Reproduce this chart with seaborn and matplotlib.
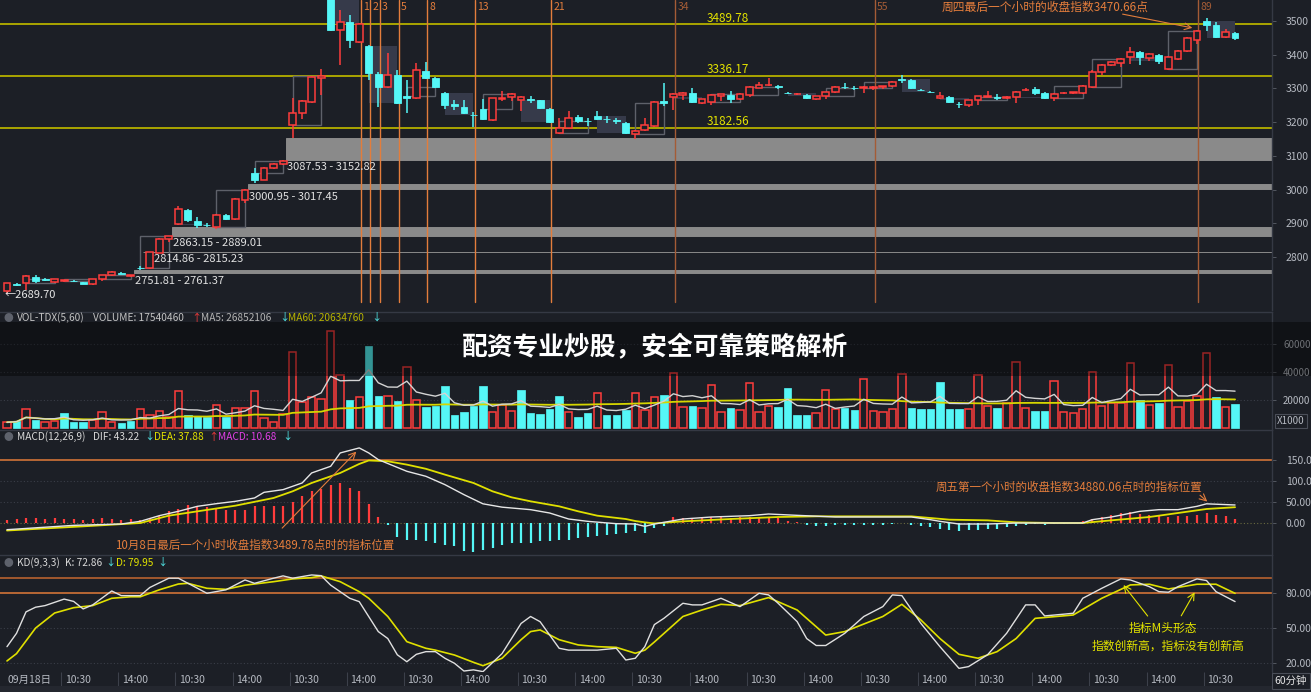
"""
60-minute index chart: candles with gap bands and Fibonacci time lines,
VOL-TDX volume, MACD(12,26,9) and KD(9,3,3), with overlay banner.
"""
import numpy as np
import pandas as pd
import matplotlib
matplotlib.use('Agg')
import matplotlib.pyplot as plt
from matplotlib.patches import Rectangle
import seaborn as sns

# ---- candles (60 min) ----
opens = [2699, 2720, 2723, 2740, 2735, 2726, 2730, 2729, 2726, 2720,
         2734, 2746, 2753, 2745, 2768, 2767, 2813, 2852, 2898, 2939,
         2908, 2896, 2889, 2924, 2913, 2970, 3049, 3029, 3064, 3076,
         3191, 3227, 3260, 3332, 3600, 3473, 3497, 3438, 3426, 3343,
         3304, 3340, 3277, 3272, 3352, 3331, 3286, 3253, 3245, 3222,
         3239, 3206, 3269, 3274, 3266, 3270, 3265, 3240, 3168, 3183,
         3215, 3204, 3218, 3210, 3205, 3197, 3165, 3177, 3188, 3262,
         3274, 3280, 3286, 3258, 3260, 3279, 3281, 3268, 3280, 3302,
         3309, 3308, 3287, 3282, 3280, 3268, 3277, 3289, 3305, 3302,
         3302, 3302, 3303, 3307, 3328, 3325, 3296, 3290, 3271, 3275,
         3255, 3251, 3265, 3276, 3275, 3273, 3274, 3294, 3298, 3286,
         3272, 3285, 3286, 3286, 3304, 3349, 3369, 3375, 3393, 3408,
         3391, 3399, 3358, 3387, 3411, 3444, 3500, 3488, 3453, 3464]
highs = [2723, 2722, 2746, 2746, 2738, 2736, 2733, 2731, 2727, 2735,
         2748, 2758, 2755, 2748, 2772, 2816, 2855, 2863, 2951, 2941,
         2918, 2901, 2926, 2926, 2974, 3001, 3064, 3066, 3078, 3087,
         3271, 3265, 3336, 3358, 3610, 3532, 3518, 3493, 3428, 3349,
         3405, 3355, 3325, 3375, 3378, 3333, 3288, 3265, 3265, 3230,
         3268, 3273, 3291, 3285, 3277, 3278, 3267, 3242, 3212, 3232,
         3222, 3212, 3233, 3218, 3212, 3199, 3176, 3212, 3262, 3316,
         3286, 3288, 3301, 3270, 3282, 3283, 3292, 3285, 3306, 3318,
         3331, 3309, 3290, 3285, 3282, 3278, 3290, 3306, 3315, 3306,
         3307, 3307, 3308, 3322, 3340, 3327, 3298, 3291, 3289, 3277,
         3259, 3267, 3279, 3293, 3282, 3277, 3291, 3300, 3303, 3288,
         3285, 3289, 3290, 3309, 3354, 3371, 3380, 3390, 3422, 3410,
         3405, 3403, 3395, 3413, 3452, 3473, 3510, 3497, 3476, 3466]
lows = [2690, 2714, 2702, 2723, 2730, 2724, 2725, 2726, 2719, 2718,
        2728, 2745, 2749, 2740, 2762, 2765, 2811, 2845, 2896, 2903,
        2886, 2890, 2883, 2911, 2911, 2960, 3019, 3027, 3062, 3074,
        3153, 3210, 3258, 3280, 3470, 3369, 3420, 3436, 3325, 3245,
        3302, 3255, 3227, 3270, 3329, 3302, 3239, 3235, 3225, 3186,
        3207, 3204, 3262, 3262, 3233, 3256, 3240, 3198, 3166, 3181,
        3197, 3190, 3205, 3198, 3195, 3166, 3150, 3175, 3186, 3248,
        3236, 3265, 3258, 3255, 3252, 3262, 3258, 3265, 3276, 3300,
        3307, 3298, 3282, 3280, 3270, 3266, 3270, 3286, 3298, 3296,
        3285, 3296, 3299, 3305, 3316, 3299, 3292, 3286, 3269, 3258,
        3243, 3245, 3251, 3274, 3265, 3270, 3257, 3292, 3281, 3270,
        3262, 3282, 3284, 3284, 3302, 3339, 3367, 3365, 3371, 3368,
        3380, 3372, 3355, 3385, 3409, 3433, 3469, 3451, 3449, 3445]
closes = [2723, 2716, 2744, 2729, 2733, 2734, 2732, 2728, 2720, 2734,
          2746, 2755, 2750, 2747, 2766, 2814, 2853, 2862, 2942, 2909,
          2895, 2894, 2924, 2913, 2972, 2999, 3028, 3064, 3076, 3085,
          3227, 3263, 3334, 3336, 3473, 3497, 3444, 3491, 3346, 3304,
          3340, 3257, 3273, 3355, 3331, 3304, 3251, 3249, 3227, 3220,
          3209, 3271, 3273, 3283, 3275, 3267, 3242, 3200, 3183, 3212,
          3204, 3202, 3209, 3208, 3202, 3168, 3174, 3191, 3260, 3258,
          3284, 3287, 3260, 3268, 3280, 3282, 3270, 3283, 3304, 3311,
          3311, 3304, 3285, 3284, 3272, 3277, 3289, 3304, 3303, 3300,
          3305, 3305, 3306, 3320, 3326, 3301, 3294, 3288, 3278, 3260,
          3253, 3265, 3277, 3278, 3273, 3275, 3289, 3296, 3287, 3272,
          3283, 3287, 3288, 3307, 3349, 3369, 3378, 3388, 3408, 3394,
          3402, 3381, 3393, 3411, 3450, 3470.66, 3488, 3453, 3467, 3450]

# volume, x1000
volume = [4300, 5200, 13800, 5900, 4300, 5200, 10700, 4300, 4300, 5900,
          11400, 4300, 3600, 5200, 13800, 9500, 12400, 8300, 26600, 9300,
          8800, 7900, 16600, 7900, 14300, 14800, 26900, 7100, 4800, 10200,
          54700, 19000, 22100, 20700, 69700, 38100, 20200, 22100, 58800, 23300,
          23000, 19700, 43600, 20200, 15000, 16200, 30200, 9500, 11400, 15900,
          30200, 11900, 16600, 12600, 27300, 10700, 10200, 13800, 23300, 11400,
          8300, 10700, 25400, 9500, 9500, 13100, 25000, 13100, 22100, 23800,
          39300, 15000, 16200, 14700, 30900, 11900, 14300, 13100, 32100, 11900,
          16200, 15000, 28600, 9500, 9500, 11100, 27300, 13800, 14300, 13100,
          35200, 12400, 11900, 13600, 38600, 14300, 13800, 13800, 33300, 13800,
          13800, 13800, 38100, 16200, 14300, 17900, 47600, 14700, 12400, 12400,
          34000, 11400, 10700, 13600, 40400, 15900, 18300, 17900, 46800, 20200,
          16600, 18300, 45200, 15400, 19700, 23100, 54000, 22600, 15400, 17540]

# MACD histogram
macd_hist = [6.4, 9.6, 11, 11, 9.6, 12, 9.6, 9.6, 8, 9.6,
             12, 9.6, 8, 9.6, 8, 12, 17.6, 28, 33.6, 44,
             40, 38, 36, 32, 32, 32, 40, 40, 41.6, 41.6,
             49.6, 64, 76, 81.6, 92, 96, 84, 77.6, 46.4, 14.4,
             -4, -33.6, -40, -40, -44, -48, -52, -56, -68, -70,
             -64, -60, -52, -48, -48, -48, -44, -44, -40, -40,
             -36, -33.6, -30, -28, -25.6, -24, -20, -24, -13, -6,
             14.4, 12, 12, 12, 14.4, 14.4, 12, 14.4, 14.4, 14.4,
             14.4, 12, 4, 2.4, -4, -6.4, -6.4, -5.6, -4, -4,
             -4, -4, -4, -1.6, 0.5, -4, -6.4, -10.4, -14.4, -17.6,
             -20, -17.6, -16, -14.4, -13.6, -9.6, -6.4, -4, -3.2, -4,
             -2.4, -1.6, 0.5, 4, 9.6, 14.4, 20, 24, 25.6, 22.4,
             20, 17.6, 14.4, 17.6, 17.6, 20, 24, 20, 17.6, 10.68]

dif_idx = [0, 7, 12, 14, 16, 18, 20, 22, 24, 26, 27, 29, 31, 32, 34, 35, 36, 37,
           38, 39, 42, 44, 46, 48, 50, 52, 55, 57, 59, 61, 64, 66, 67, 68, 69,
           71, 74, 78, 80, 83, 87, 92, 95, 97, 98, 100, 103, 106, 110, 113, 114,
           116, 119, 121, 123, 125, 126, 129]
dif_val = [-16, -5.6, -2.4, 4, 17.6, 28, 40, 46.4, 52, 60, 73.6, 80, 96, 120, 136, 168, 174, 180,
           168, 152, 124, 112, 92, 68, 46, 38, 32, 24, 9.6, 4, -1.6, -2.4, -8, -2.4, 1.6,
           9.6, 14.4, 17.6, 21.6, 18.4, 14.4, 14.4, 14.4, 8, 4, -2.4, -2.4, 0, 0, 0, 8,
           14.4, 28, 32, 32, 40, 46, 43.22]
dea_idx = [0, 8, 14, 17, 20, 24, 28, 30, 32, 35, 37, 38, 40, 42, 44, 46, 49, 51, 53,
           55, 58, 60, 62, 65, 66, 67, 68, 71, 76, 81, 85, 95, 99, 103, 106, 110,
           113, 116, 120, 123, 126, 129]
dea_val = [-18, -8, 0, 17.6, 28, 41.6, 60, 76, 96, 120, 141.6, 150, 148, 140, 130, 116, 96, 76, 61.6,
           52, 40, 28, 17.6, 9.6, 4.8, 1.6, -1, 4, 9.6, 14.4, 16, 16, 8, 6.4, 1.6, 0,
           0, 6.4, 14.4, 24, 33.6, 37.88]

k_idx = [0, 1, 2, 3, 4, 6, 7, 8, 9, 11, 12, 14, 15, 17, 18, 21, 23, 25, 26, 28, 29, 30,
         32, 33, 34, 36, 37, 39, 40, 41, 42, 43, 44, 45, 46, 47, 48, 49, 50, 52, 54, 55,
         56, 58, 59, 62, 64, 65, 66, 67, 68, 69, 71, 72, 73, 75, 77, 79, 80, 81, 83, 84,
         85, 86, 88, 90, 92, 93, 94, 96, 98, 100, 101, 103, 105, 107, 108, 109, 111, 112,
         113, 115, 117, 118, 120, 121, 122, 123, 125, 126, 127, 129]
k_val = [34, 45.5, 64, 68, 69.4, 75, 73, 66.5, 70, 82, 78, 78, 85, 93, 93, 80, 83, 91.5, 88.6, 93, 95, 93,
         95.8, 95.2, 87, 75.7, 72.8, 47, 41, 27, 21, 27.4, 29.7, 29.7, 24, 19.7, 13, 14, 12.5, 28, 54, 60,
         55.5, 32.6, 31, 31, 32.6, 22.5, 24, 34, 53, 58.4, 71.4, 70, 70, 75.7, 68.5, 80, 78.6, 71.4, 55.6, 41,
         35, 35, 45.5, 60, 68.5, 78.6, 78, 54, 34, 15.3, 16.8, 27, 45.5, 70, 70, 60.5, 62, 62.8,
         75.7, 84.3, 92.4, 91.5, 85.7, 81.4, 80.9, 85.7, 92.4, 91, 81.4, 72.86]
d_idx = [0, 1, 3, 5, 7, 9, 11, 13, 14, 16, 18, 19, 21, 23, 25, 28, 30, 32, 33, 35, 37, 38,
         40, 42, 44, 45, 47, 49, 50, 52, 54, 55, 56, 58, 60, 62, 64, 66, 67, 68, 71, 73,
         75, 77, 80, 83, 86, 88, 92, 94, 96, 98, 100, 102, 104, 106, 108, 112, 115, 118,
         120, 122, 125, 127, 129]
d_val = [21.7, 28, 50, 63, 67.6, 69.4, 75.7, 77, 77, 83, 88, 88.6, 84.3, 83.4, 87, 90, 92.4, 93.5, 95, 90, 81.4, 75.7,
         60, 38.3, 32.6, 31, 26.8, 20.5, 17.6, 24, 40, 47, 48.4, 40, 35.5, 34, 33.4, 28.3, 31, 38, 60, 65.6,
         70.5, 69.4, 76.3, 65.6, 44, 47, 60, 70.5, 57, 41, 27.4, 24, 29.7, 41, 58.4, 61.3, 75.7, 87.2,
         87.8, 83.7, 87.8, 87.8, 79.95]

# key levels / gaps
key_levels = [3489.78, 3336.17, 3182.56]
band_lo = [3087.53, 3000.95, 2863.15, 2814.86, 2751.81]
band_hi = [3152.82, 3017.45, 2889.01, 2815.23, 2761.37]
band_start = [29, 25, 17, 14, 13]
fib_base = 36
fib_steps = [1, 2, 3, 5, 8, 13, 21, 34, 55, 89]
price_ticks = [2800, 2900, 3000, 3100, 3200, 3300, 3400, 3500]
time_labels = ['09月18日'] + ['10:30' if k % 2 else '14:00' for k in range(1, 22)]

# ---- style ----
W, H = 1311, 692
RIGHT = 1272
BG = '#1c1f26'
RED = '#ff3c3c'
CYAN = '#55f7f7'
YEL = '#e3e300'
OLIVE = '#aaa500'
ORANGE = '#e37d3c'
TICK = '#b6bac2'
SEP = '#353944'
XMAX = 132.88

sns.set_theme(style='dark', rc={'axes.facecolor': BG, 'figure.facecolor': BG,
                                'axes.edgecolor': SEP, 'text.color': TICK})
plt.rcParams['font.family'] = ['Noto Sans CJK SC', 'DejaVu Sans']
plt.rcParams['axes.unicode_minus'] = False

idx = np.arange(len(closes))
o, h, l, c = (np.array(a, dtype=float) for a in (opens, highs, lows, closes))
up = c >= o

fig = plt.figure(figsize=(W / 100, H / 100), dpi=100)


def fx(px):
    return px / W


def fy(py):
    return 1 - py / H


def panel(top, bottom, lsize=7.5):
    ax = fig.add_axes([0, 1 - bottom / H, RIGHT / W, (bottom - top) / H])
    ax.set_facecolor(BG)
    ax.set_xticks([])
    ax.yaxis.tick_right()
    ax.tick_params(axis='y', colors='#5c606a', labelcolor=TICK, labelsize=lsize,
                   length=3, width=0.6, pad=7)
    for s in ['left', 'bottom']:
        ax.spines[s].set_visible(False)
    for s in ['top', 'right']:
        ax.spines[s].set_color(SEP)
        ax.spines[s].set_linewidth(1)
    ax.grid(False)
    return ax


# ---- price panel ----
ax_p = panel(0, 310)
for lo, hi, st in zip(band_lo, band_hi, band_start):
    ax_p.add_patch(Rectangle((st + 0.3, lo), XMAX - st, hi - lo, facecolor='#8a8a8a',
                             edgecolor='#8a8a8a', lw=0.7, zorder=1))
label_x = [29.4, 25.4, 17.4, 15.4, 13.4]
for lo, hi, lx in zip(band_lo, band_hi, label_x):
    ax_p.text(lx, lo - 22, f'{lo:.2f} - {hi:.2f}', color='#e2e2e2', fontsize=8,
              ha='left', va='center', zorder=6)

for v in key_levels:
    ax_p.axhline(v, color=OLIVE, lw=1.4, zorder=2)
    ax_p.text(73.5, v + 19, f'{v:.2f}', color=YEL, fontsize=8.5, ha='left', va='center')

# one box per trading day (4 hourly bars), open of first to close of last
for s in range(2, len(c) - 3, 4):
    e = s + 3
    lo_, hi_ = min(o[s], c[e]), max(o[s], c[e])
    if c[e] < o[s]:
        ax_p.add_patch(Rectangle((s, lo_), 3, hi_ - lo_, facecolor='#363a4a',
                                 edgecolor='none', zorder=2))
    else:
        ax_p.add_patch(Rectangle((s, lo_), 3, hi_ - lo_, fill=False,
                                 edgecolor='#5e616a', lw=1, zorder=2))

for k, step in enumerate(fib_steps):
    xi = fib_base + step + 0.15
    col = ORANGE if k < 7 else '#a45c36'
    ax_p.axvline(xi, ymin=0.026, ymax=1, color=col, lw=1, zorder=2)
    ax_p.text(xi + 0.25, 3541, str(step), color=col, fontsize=7.5, ha='left', va='center')

ax_p.vlines(idx, l, h, colors=np.where(up, RED, CYAN), lw=1.1, zorder=3)
body_lo = np.minimum(o, c)
body_h = np.maximum(np.abs(c - o), 1.5)
ax_p.bar(idx[up], body_h[up], bottom=body_lo[up], width=0.72, facecolor=BG,
         edgecolor=RED, lw=1.1, zorder=4)
ax_p.bar(idx[~up], body_h[~up], bottom=body_lo[~up], width=0.72, facecolor=CYAN,
         edgecolor=CYAN, lw=0.6, zorder=4)

ax_p.text(-0.3, 2686, '←2689.70', color='#e6e6e6', fontsize=8, ha='left', va='center')
ax_p.text(109, 3540, '周四最后一个小时的收盘指数3470.66点', color=ORANGE, fontsize=8.5,
          ha='center', va='center', clip_on=False)
ax_p.annotate('', xy=(124.8, 3478), xytext=(116.9, 3522),
              arrowprops=dict(arrowstyle='->', color=ORANGE, lw=0.8), zorder=6)
ax_p.set_xlim(-0.735, XMAX)
ax_p.set_ylim(2642.7, 3562.3)
ax_p.set_yticks(price_ticks)
ax_p.set_yticklabels([str(t) for t in price_ticks])
ax_p.spines['top'].set_visible(False)

# ---- volume panel ----
ax_v = panel(312, 430, lsize=7)
vol = np.array(volume, dtype=float)
prev = np.r_[o[0], c[:-1]]
vup = c >= prev
for v in [20000, 40000, 60000]:
    ax_v.axhline(v, color='#3a3e48', lw=0.8, ls=(0, (1, 2)), zorder=0)
ax_v.bar(idx[vup], vol[vup], width=0.78, facecolor=BG, edgecolor=RED, lw=1.1, zorder=3)
ax_v.bar(idx[~vup], vol[~vup], width=0.78, facecolor=CYAN, edgecolor=CYAN, lw=0.5, zorder=3)
ma5 = pd.Series(vol).rolling(5, min_periods=1).mean()
ma60 = pd.Series(vol).rolling(60, min_periods=1).mean()
sns.lineplot(x=idx, y=ma60.values, ax=ax_v, color='#d6d600', lw=1.3, legend=False,
             estimator=None, sort=False, zorder=4)
sns.lineplot(x=idx, y=ma5.values, ax=ax_v, color='#d4d4d4', lw=1, legend=False,
             estimator=None, sort=False, zorder=5)
ax_v.set_xlim(-0.735, XMAX)
ax_v.set_ylim(-1214, 83071)
ax_v.set_yticks([20000, 40000, 60000])
ax_v.set_yticklabels(['20000', '40000', '60000'])
ax_v.tick_params(axis='y', pad=5)
ax_v.set_xlabel('')
ax_v.set_ylabel('')

# ---- MACD panel ----
ax_m = panel(430, 555)
hist = np.array(macd_hist)
for v in [50, 100]:
    ax_m.axhline(v, color='#3a3e48', lw=0.8, ls=(0, (1, 2)), zorder=0)
ax_m.axhline(0, color='#6a6a40', lw=0.8, ls=(0, (1, 2)), zorder=0)
ax_m.axhline(150, color='#d27437', lw=1.2, zorder=1)
ax_m.vlines(idx, 0, hist, colors=np.where(hist >= 0, RED, CYAN), lw=1.6, zorder=2)
sns.lineplot(x=dea_idx, y=dea_val, ax=ax_m, color='#e0e000', lw=1.3, legend=False,
             estimator=None, sort=False, zorder=3)
sns.lineplot(x=dif_idx, y=dif_val, ax=ax_m, color='#e6e6e6', lw=1, legend=False,
             estimator=None, sort=False, zorder=4)
ax_m.text(11.3, -53, '10月8日最后一个小时收盘指数3489.78点时的指标位置', color=ORANGE,
          fontsize=8.3, ha='left', va='center')
ax_m.annotate('', xy=(36.9, 176), xytext=(28.7, -17),
              arrowprops=dict(arrowstyle='->', color=ORANGE, lw=0.8))
ax_m.text(97.5, 86, '周五第一个小时的收盘指数34880.06点时的指标位置', color=ORANGE,
          fontsize=8.3, ha='left', va='center')
ax_m.annotate('', xy=(126.3, 47), xytext=(125.1, 71),
              arrowprops=dict(arrowstyle='->', color=ORANGE, lw=0.8))
ax_m.set_xlim(-0.735, XMAX)
ax_m.set_ylim(-76.7, 223)
ax_m.set_yticks([0, 50, 100, 150])
ax_m.set_yticklabels(['0.00', '50.00', '100.0', '150.0'])
ax_m.set_xlabel('')
ax_m.set_ylabel('')

# ---- KD panel ----
ax_k = panel(555, 672)
for v in [20, 50]:
    ax_k.axhline(v, color='#3a3e48', lw=0.8, ls=(0, (1, 2)), zorder=0)
ax_k.axhline(80, color='#d27437', lw=1.2, zorder=1)
ax_k.axhline(93.5, color='#b8622f', lw=1.2, zorder=1)
sns.lineplot(x=d_idx, y=d_val, ax=ax_k, color='#e0e000', lw=1.2, legend=False,
             estimator=None, sort=False, zorder=3)
sns.lineplot(x=k_idx, y=k_val, ax=ax_k, color='#e0e0e0', lw=1, legend=False,
             estimator=None, sort=False, zorder=4)
ax_k.text(121.4, 50, '指标M头形态', color=YEL, fontsize=8.5, ha='center', va='center')
ax_k.text(122, 34.6, '指数创新高，指标没有创新高', color=YEL, fontsize=8.5, ha='center', va='center')
ax_k.annotate('', xy=(117.1, 89), xytext=(120, 58.5),
              arrowprops=dict(arrowstyle='->', color=YEL, lw=0.8))
ax_k.annotate('', xy=(124.9, 83), xytext=(123.2, 58.5),
              arrowprops=dict(arrowstyle='->', color=YEL, lw=0.8))
ax_k.set_xlim(-0.735, XMAX)
ax_k.set_ylim(12.16, 113)
ax_k.set_yticks([20, 50, 80])
ax_k.set_yticklabels(['20.00', '50.00', '80.00'])
ax_k.set_xlabel('')
ax_k.set_ylabel('')

# ---- time axis strip ----
ax_x = fig.add_axes([0, 0, RIGHT / W, 20 / H])
ax_x.set_facecolor(BG)
ax_x.set_xlim(-0.735, XMAX)
ax_x.set_ylim(0, 1)
ax_x.set_xticks([])
ax_x.set_yticks([])
for s in ax_x.spines.values():
    s.set_visible(False)
for k, lab in enumerate(time_labels):
    pos = 6 * k
    ax_x.text(pos + 0.05, 0.58, lab, color=TICK, fontsize=7.5, ha='left', va='center')
    if k:
        ax_x.vlines(pos - 0.3, 0.3, 1, color='#3c404a', lw=0.8)
fig.add_artist(Rectangle((0, 0), 1, 6 / H, transform=fig.transFigure,
                         facecolor='#24272f', edgecolor='none', zorder=3))
fig.text(fx(1291), fy(681), '60分钟', color='#e4e4e4', fontsize=7.5, ha='center', va='center',
         bbox=dict(boxstyle='square,pad=0.3', fc=BG, ec='#4a4e58', lw=0.8))
fig.text(fx(1291), fy(421), 'X1000', color=TICK, fontsize=7, ha='center', va='center',
         bbox=dict(boxstyle='square,pad=0.25', fc=BG, ec='#4a4e58', lw=0.8))

# ---- indicator headers ----
headers = [
    (318, [(17, 'VOL-TDX(5,60)', '#c4c4c4'), (93, 'VOLUME: 17540460', '#c4c4c4'),
           (191, '↑', RED), (201, 'MA5: 26852106', '#b4b4b4'), (279, '↓', CYAN),
           (288, 'MA60: 20634760', '#b8b400'), (371, '↓', CYAN)]),
    (437, [(17, 'MACD(12,26,9)', '#d8d8d8'), (93, 'DIF: 43.22', '#d8d8d8'),
           (144, '↓', CYAN), (154, 'DEA: 37.88', YEL), (208, '↑', RED),
           (218, 'MACD: 10.68', '#e040e6'), (282, '↓', CYAN)]),
    (563, [(17, 'KD(9,3,3)', '#d8d8d8'), (65, 'K: 72.86', '#d8d8d8'), (105, '↓', CYAN),
           (116, 'D: 79.95', YEL), (157, '↓', CYAN)]),
]
for ypx, parts in headers:
    fig.text(fx(8), fy(ypx), '●', color='#5e626c', fontsize=7, ha='center', va='center')
    for xpx, txt, col in parts:
        fig.text(fx(xpx), fy(ypx), txt, color=col, fontsize=7.3, ha='left', va='center')

# ---- overlay banner ----
fig.add_artist(Rectangle((0, fy(376)), 1, (376 - 322) / H, transform=fig.transFigure,
                         facecolor='#000000', alpha=0.4, edgecolor='none', zorder=5))
fig.text(fx(655), fy(348), '配资专业炒股，安全可靠策略解析', color='white', fontsize=18.5,
         fontweight='bold', ha='center', va='center', zorder=6)

fig.savefig('out.png', dpi=100, facecolor=BG)
